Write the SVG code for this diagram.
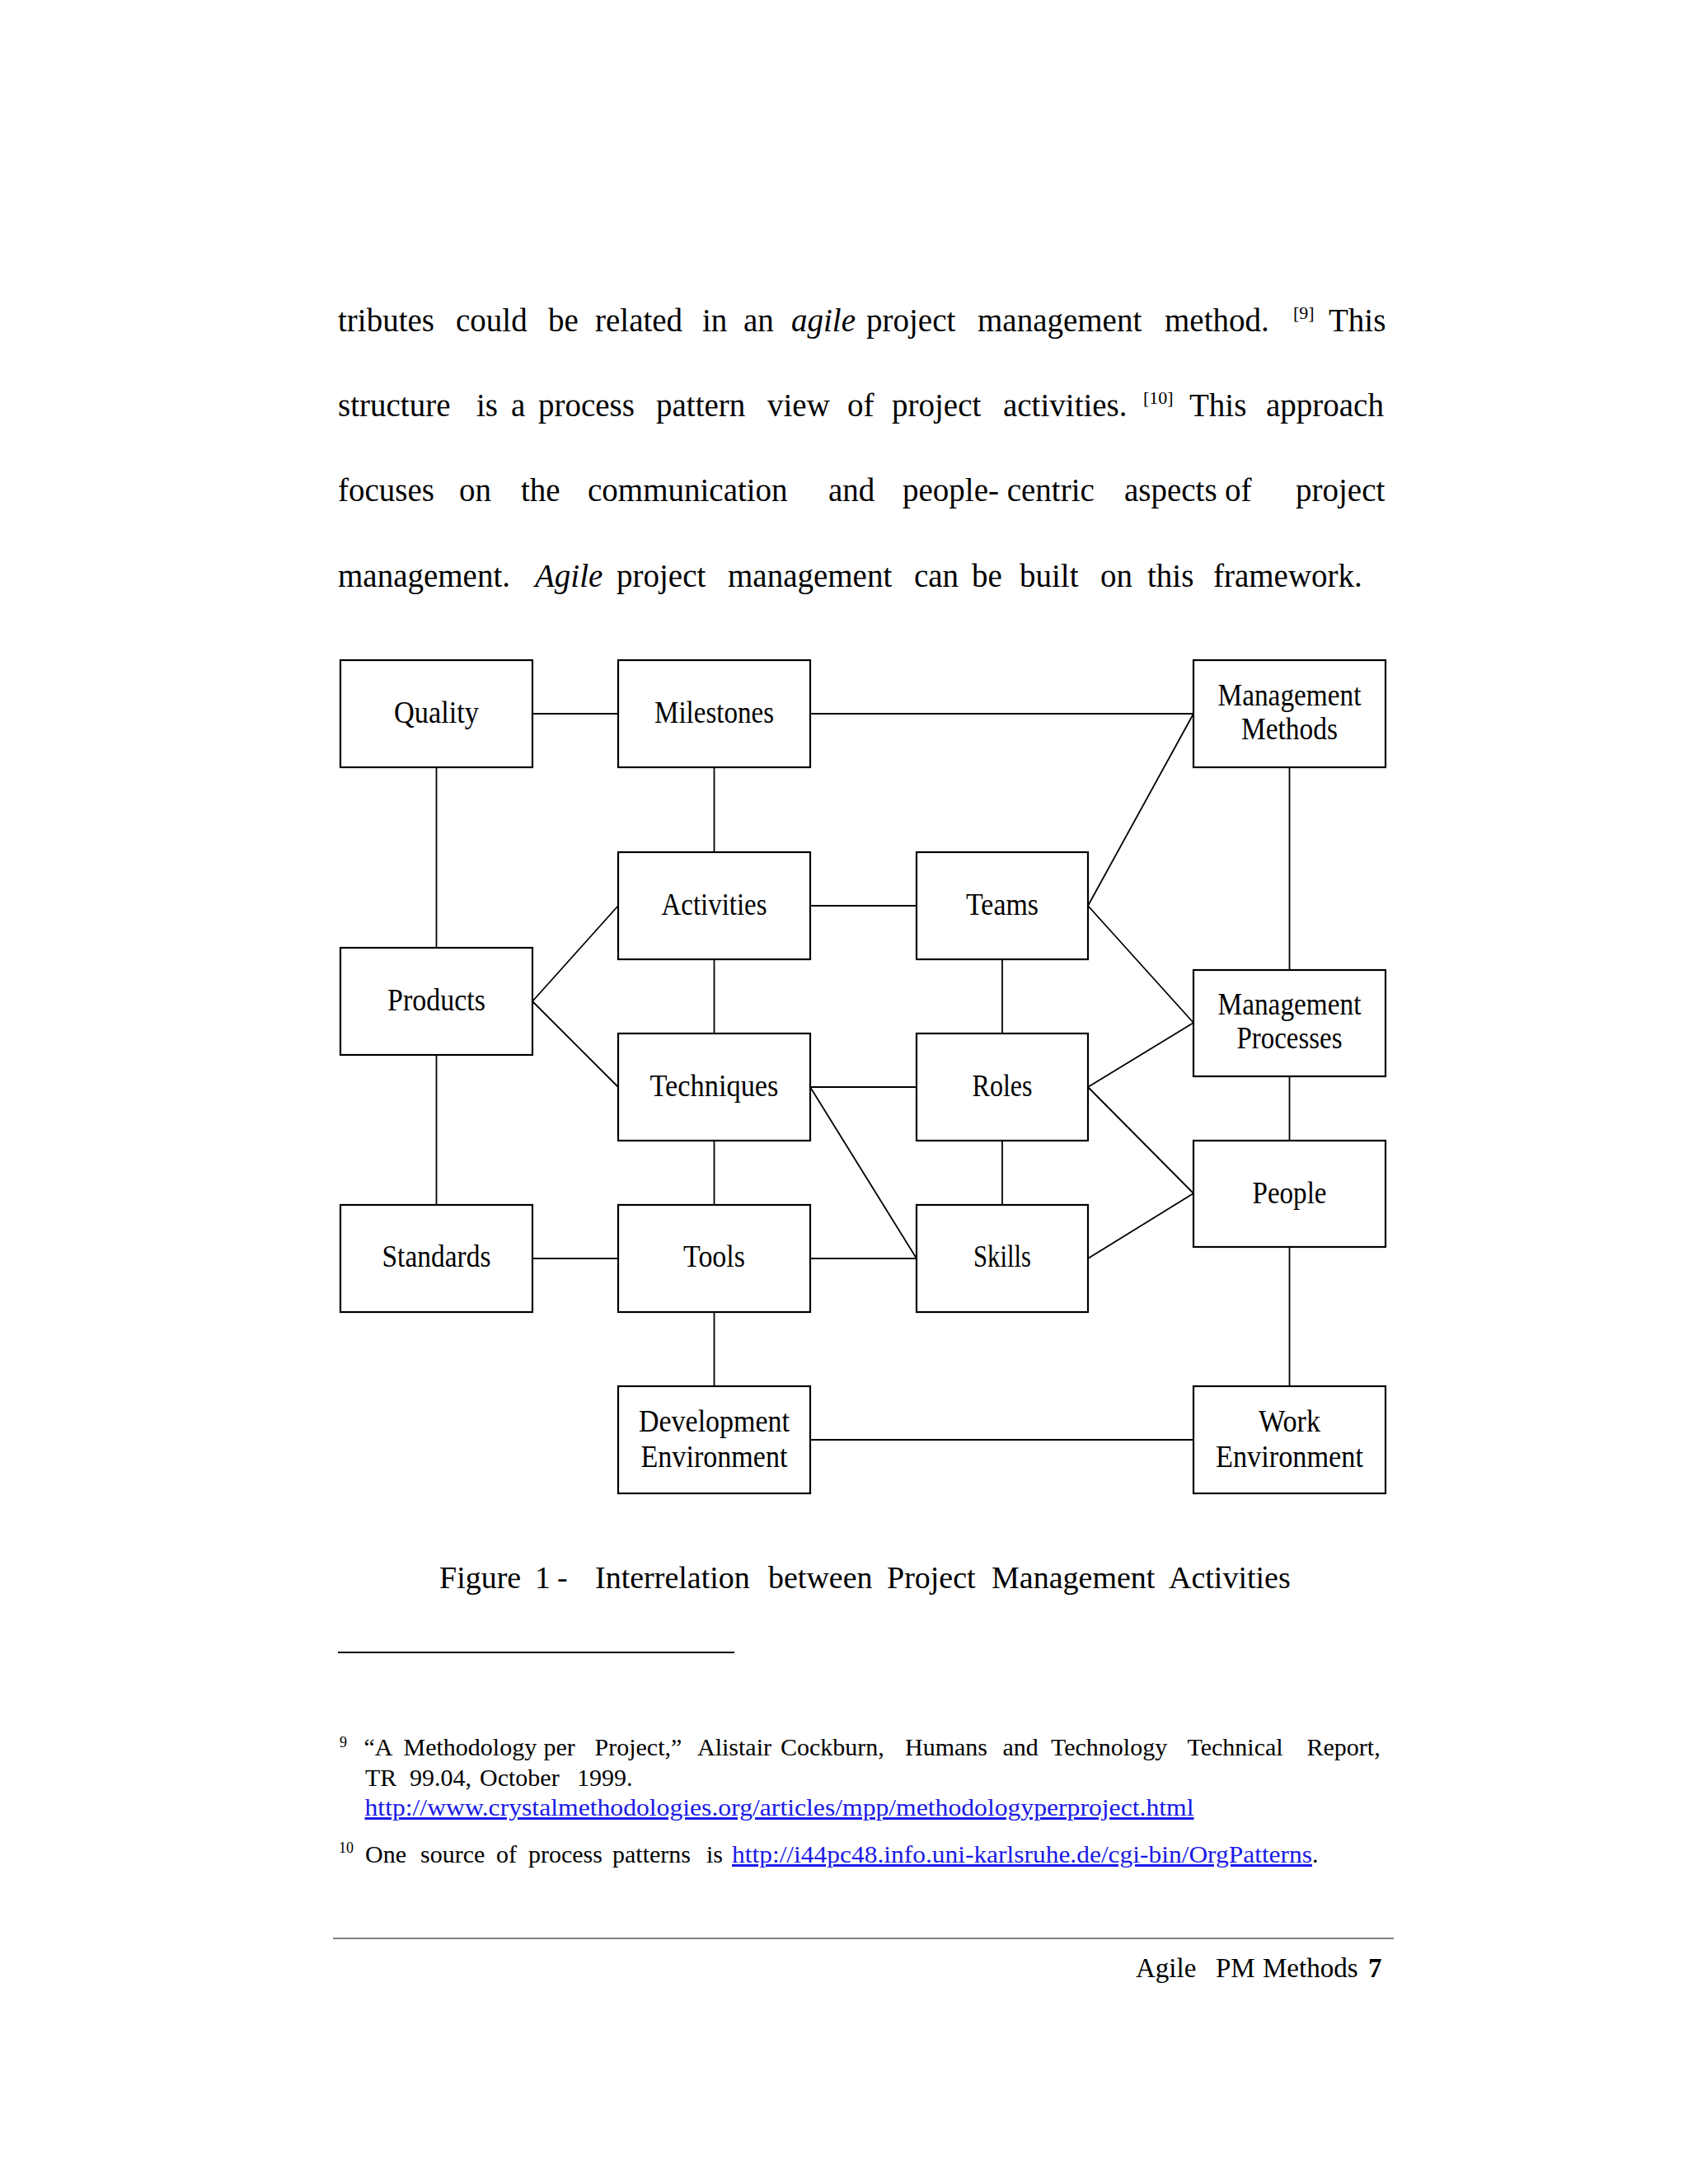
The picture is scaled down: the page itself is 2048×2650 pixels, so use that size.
<svg xmlns="http://www.w3.org/2000/svg" width="2048" height="2650" viewBox="0 0 2048 2650">
<style>
.body{font-family:"Liberation Serif","Times New Roman",serif;font-size:39px;fill:#000}
.it{font-style:italic}
.sup{font-family:"Liberation Serif",serif;font-size:22px;fill:#000}
.box{fill:#fff;stroke:#000;stroke-width:2.2}
.lbl{font-family:"Liberation Serif","Times New Roman",serif;font-size:37px;fill:#000;text-anchor:middle}
.cap{font-family:"Liberation Serif",serif;font-size:38px;fill:#000}
.fn{font-family:"Liberation Serif",serif;font-size:30px;fill:#000}
.fnm{font-family:"Liberation Serif",serif;font-size:18px;fill:#000}
.link{fill:#1a1ae6;text-decoration:underline}
.ft{font-family:"Liberation Serif",serif;font-size:33px;fill:#000}
#connectors line{stroke:#000;stroke-width:1.8}
</style>
<rect width="2048" height="2650" fill="#fff"/>

<g id="paragraph">
<text class="body" y="402"><tspan x="410">tributes</tspan><tspan x="553">could</tspan><tspan x="665">be</tspan><tspan x="722">related</tspan><tspan x="852">in</tspan><tspan x="902">an</tspan><tspan x="960" class="it">agile</tspan><tspan x="1051">project</tspan><tspan x="1186">management</tspan><tspan x="1413">method.</tspan><tspan x="1612">This</tspan></text>
<text class="sup" x="1569" y="387">[9]</text>
<text class="body" y="505"><tspan x="410">structure</tspan><tspan x="578">is</tspan><tspan x="620">a</tspan><tspan x="653">process</tspan><tspan x="796">pattern</tspan><tspan x="931">view</tspan><tspan x="1028">of</tspan><tspan x="1082">project</tspan><tspan x="1217">activities.</tspan><tspan x="1443">This</tspan><tspan x="1536">approach</tspan></text>
<text class="sup" x="1387" y="490">[10]</text>
<text class="body" y="608"><tspan x="410">focuses</tspan><tspan x="557">on</tspan><tspan x="632">the</tspan><tspan x="713">communication</tspan><tspan x="1005">and</tspan><tspan x="1095">people- centric</tspan><tspan x="1364">aspects</tspan><tspan x="1486">of</tspan><tspan x="1572">project</tspan></text>
<text class="body" y="712"><tspan x="410">management.</tspan><tspan x="649" class="it">Agile</tspan><tspan x="748">project</tspan><tspan x="883">management</tspan><tspan x="1109">can</tspan><tspan x="1179">be</tspan><tspan x="1237">built</tspan><tspan x="1335">on</tspan><tspan x="1392">this</tspan><tspan x="1472">framework.</tspan></text>
</g>

<g id="connectors">
<line x1="646" y1="866" x2="750" y2="866"/>
<line x1="983" y1="866" x2="1448" y2="866"/>
<line x1="529.5" y1="931" x2="529.5" y2="1150"/>
<line x1="866.5" y1="931" x2="866.5" y2="1034"/>
<line x1="1564.5" y1="931" x2="1564.5" y2="1177"/>
<line x1="1320" y1="1099" x2="1448" y2="866"/>
<line x1="983" y1="1099" x2="1112" y2="1099"/>
<line x1="1320" y1="1099" x2="1448" y2="1241"/>
<line x1="646" y1="1215" x2="750" y2="1099"/>
<line x1="646" y1="1215" x2="750" y2="1319"/>
<line x1="866.5" y1="1164" x2="866.5" y2="1254"/>
<line x1="1216" y1="1164" x2="1216" y2="1254"/>
<line x1="983" y1="1319" x2="1112" y2="1319"/>
<line x1="983" y1="1319" x2="1112" y2="1527"/>
<line x1="1320" y1="1319" x2="1448" y2="1241"/>
<line x1="1320" y1="1319" x2="1448" y2="1448"/>
<line x1="1564.5" y1="1306" x2="1564.5" y2="1384"/>
<line x1="529.5" y1="1280" x2="529.5" y2="1462"/>
<line x1="866.5" y1="1384" x2="866.5" y2="1462"/>
<line x1="1216" y1="1384" x2="1216" y2="1462"/>
<line x1="646" y1="1527" x2="750" y2="1527"/>
<line x1="983" y1="1527" x2="1112" y2="1527"/>
<line x1="1320" y1="1527" x2="1448" y2="1448"/>
<line x1="1564.5" y1="1513" x2="1564.5" y2="1682"/>
<line x1="866.5" y1="1592" x2="866.5" y2="1682"/>
<line x1="983" y1="1747" x2="1448" y2="1747"/>
</g>

<g id="quality"><rect class="box" x="413" y="801" width="233" height="130"/><text class="lbl" x="529.5" y="877" textLength="103" lengthAdjust="spacingAndGlyphs">Quality</text></g>
<g id="milestones"><rect class="box" x="750" y="801" width="233" height="130"/><text class="lbl" x="866.5" y="877" textLength="145" lengthAdjust="spacingAndGlyphs">Milestones</text></g>
<g id="management-methods"><rect class="box" x="1448" y="801" width="233" height="130"/><text class="lbl" x="1564.5" y="856" textLength="174" lengthAdjust="spacingAndGlyphs">Management</text><text class="lbl" x="1564.5" y="897" textLength="117" lengthAdjust="spacingAndGlyphs">Methods</text></g>
<g id="activities"><rect class="box" x="750" y="1034" width="233" height="130"/><text class="lbl" x="866.5" y="1110" textLength="128" lengthAdjust="spacingAndGlyphs">Activities</text></g>
<g id="teams"><rect class="box" x="1112" y="1034" width="208" height="130"/><text class="lbl" x="1216" y="1110" textLength="88" lengthAdjust="spacingAndGlyphs">Teams</text></g>
<g id="products"><rect class="box" x="413" y="1150" width="233" height="130"/><text class="lbl" x="529.5" y="1226" textLength="119" lengthAdjust="spacingAndGlyphs">Products</text></g>
<g id="management-processes"><rect class="box" x="1448" y="1177" width="233" height="129"/><text class="lbl" x="1564.5" y="1231" textLength="174" lengthAdjust="spacingAndGlyphs">Management</text><text class="lbl" x="1564.5" y="1272" textLength="128" lengthAdjust="spacingAndGlyphs">Processes</text></g>
<g id="techniques"><rect class="box" x="750" y="1254" width="233" height="130"/><text class="lbl" x="866.5" y="1330" textLength="156" lengthAdjust="spacingAndGlyphs">Techniques</text></g>
<g id="roles"><rect class="box" x="1112" y="1254" width="208" height="130"/><text class="lbl" x="1216" y="1330" textLength="73" lengthAdjust="spacingAndGlyphs">Roles</text></g>
<g id="people"><rect class="box" x="1448" y="1384" width="233" height="129"/><text class="lbl" x="1564.5" y="1460" textLength="90" lengthAdjust="spacingAndGlyphs">People</text></g>
<g id="standards"><rect class="box" x="413" y="1462" width="233" height="130"/><text class="lbl" x="529.5" y="1537" textLength="132" lengthAdjust="spacingAndGlyphs">Standards</text></g>
<g id="tools"><rect class="box" x="750" y="1462" width="233" height="130"/><text class="lbl" x="866.5" y="1537" textLength="75" lengthAdjust="spacingAndGlyphs">Tools</text></g>
<g id="skills"><rect class="box" x="1112" y="1462" width="208" height="130"/><text class="lbl" x="1216" y="1537" textLength="70" lengthAdjust="spacingAndGlyphs">Skills</text></g>
<g id="development-environment"><rect class="box" x="750" y="1682" width="233" height="130"/><text class="lbl" x="866.5" y="1737" textLength="183" lengthAdjust="spacingAndGlyphs">Development</text><text class="lbl" x="866.5" y="1780" textLength="178" lengthAdjust="spacingAndGlyphs">Environment</text></g>
<g id="work-environment"><rect class="box" x="1448" y="1682" width="233" height="130"/><text class="lbl" x="1564.5" y="1737" textLength="75" lengthAdjust="spacingAndGlyphs">Work</text><text class="lbl" x="1564.5" y="1780" textLength="179" lengthAdjust="spacingAndGlyphs">Environment</text></g>

<g id="caption">
<text class="cap" y="1927"><tspan x="533">Figure</tspan><tspan x="649">1</tspan><tspan x="676">-</tspan><tspan x="722">Interrelation</tspan><tspan x="932">between</tspan><tspan x="1076">Project</tspan><tspan x="1203">Management</tspan><tspan x="1418">Activities</tspan></text>
</g>

<g id="footnotes">
<line x1="410" y1="2005" x2="891" y2="2005" stroke="#000" stroke-width="2"/>
<text class="fnm" x="412" y="2120">9</text>
<text class="fn" y="2130"><tspan x="441.5">“A</tspan><tspan x="489.5">Methodology</tspan><tspan x="659.5">per</tspan><tspan x="721.5">Project,”</tspan><tspan x="846">Alistair</tspan><tspan x="947">Cockburn,</tspan><tspan x="1098">Humans</tspan><tspan x="1216.5">and</tspan><tspan x="1275">Technology</tspan><tspan x="1440.5">Technical</tspan><tspan x="1585.5">Report,</tspan></text>
<text class="fn" y="2167"><tspan x="443">TR</tspan><tspan x="497">99.04,</tspan><tspan x="582">October</tspan><tspan x="700">1999.</tspan></text>
<text class="fn link" x="442.5" y="2203" textLength="1006" lengthAdjust="spacingAndGlyphs">http://www.crystalmethodologies.org/articles/mpp/methodologyperproject.html</text>
<text class="fnm" x="411" y="2248">10</text>
<text class="fn" y="2260"><tspan x="443">One</tspan><tspan x="510">source</tspan><tspan x="602">of</tspan><tspan x="641">process</tspan><tspan x="743">patterns</tspan><tspan x="857">is</tspan></text>
<text class="fn link" x="888" y="2260" textLength="704" lengthAdjust="spacingAndGlyphs">http://i44pc48.info.uni-karlsruhe.de/cgi-bin/OrgPatterns</text>
<text class="fn" x="1592" y="2260">.</text>
</g>

<g id="footer">
<line x1="404" y1="2352" x2="1691" y2="2352" stroke="#555" stroke-width="1.6"/>
<text class="ft" y="2399"><tspan x="1378">Agile</tspan><tspan x="1475">PM</tspan><tspan x="1532">Methods</tspan><tspan x="1660" font-weight="bold">7</tspan></text>
</g>
</svg>
